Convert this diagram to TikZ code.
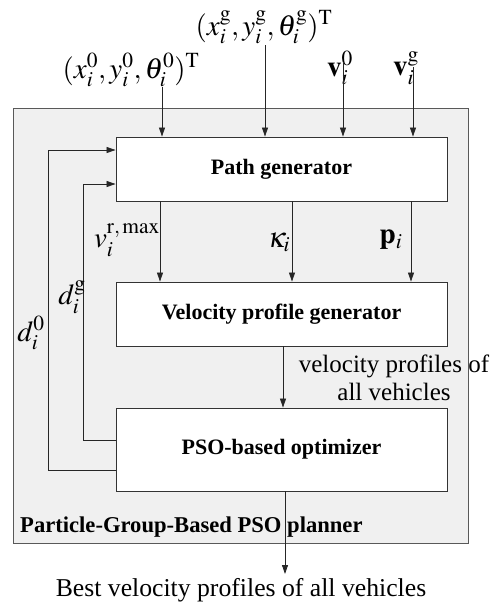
\documentclass[tikz,border=0pt]{standalone}
\usepackage{mathptmx}
\usepackage{fontspec}
\setmainfont{Liberation Serif}
\usetikzlibrary{arrows.meta}
\begin{document}
\begin{tikzpicture}[x=1pt,y=-1pt,
  box/.style={draw=black!80, fill=white, line width=0.9pt, minimum width=331pt, inner sep=0pt, font=\fontsize{22}{26}\selectfont\bfseries},
  arr/.style={-{Triangle[length=9pt,width=6pt]}, line width=0.8pt, draw=black!85},
  lbl/.style={font=\fontsize{25}{30}\selectfont, inner sep=0pt},
  mlbl/.style={font=\fontsize{29}{34}\selectfont, inner sep=0pt}]
\useasboundingbox (0,0) rectangle (501,606);
\node[draw=black!65, fill=black!6, line width=0.9pt, minimum width=455pt, minimum height=435pt, anchor=north west, inner sep=0pt] (planner) at (13,108) {};
\node[box, minimum height=64pt] (pg) at (281.5,169) {Path generator};
\node[box, minimum height=64pt] (vpg) at (281.5,314) {Velocity profile generator};
\node[box, minimum height=83pt] (pso) at (281.5,449.5) {PSO-based optimizer};
\node[anchor=west, inner sep=0pt, font=\fontsize{22.6}{26}\selectfont\bfseries] (ptitle) at (20,527) {Particle-Group-Based PSO planner};
% input labels
\node[mlbl] (q0) at (131,70) {$(x_i^0,y_i^0,\theta_i^0)^{\mathrm{T}}$};
\node[mlbl] (qg) at (264,27) {$(x_i^{\mathrm g},y_i^{\mathrm g},\theta_i^{\mathrm g})^{\mathrm T}$};
\node[mlbl] (v0) at (340,68) {$\mathbf v_i^0$};
\node[mlbl] (vg) at (406,68) {$\mathbf v_i^{\mathrm g}$};
\coordinate (s1) at (162,87);
\coordinate (s2) at (265,45);
\coordinate (s3) at (343,62);
\coordinate (s4) at (413,67);
\draw[arr] (s1) -- (s1 |- pg.north);
\draw[arr] (s2) -- (s2 |- pg.north);
\draw[arr] (s3) -- (s3 |- pg.north);
\draw[arr] (s4) -- (s4 |- pg.north);
% path gen -> vpg
\coordinate (m1) at (160,201);
\coordinate (m2) at (292,201);
\coordinate (m3) at (411,201);
\draw[arr] (m1) -- (m1 |- vpg.north);
\draw[arr] (m2) -- (m2 |- vpg.north);
\draw[arr] (m3) -- (m3 |- vpg.north);
\node[mlbl] (vr) at (127,240) {$v_i^{\mathrm{r,\,max}}$};
\node[mlbl] (ka) at (279,242) {$\kappa_i$};
\node[mlbl] (pp) at (391,240) {$\mathbf p_i$};
% vpg -> pso
\coordinate (m4) at (283,346);
\draw[arr] (m4) -- (m4 |- pso.north);
\node[lbl] (vpl1) at (394,366) {velocity profiles of};
\node[lbl] (vpl2) at (394,392) {all vehicles};
% feedback
\coordinate (f1) at (48,470);
\coordinate (f2) at (83,440);
\draw[arr] (pso.west |- f1) -- (f1) |- (pg.west |- 0,150);
\draw[arr] (pso.west |- f2) -- (f2) |- (pg.west |- 0,184);
\node[mlbl] (dg) at (72,297) {$d_i^{\mathrm g}$};
\node[mlbl] (d0) at (31,333) {$d_i^0$};
% output
\node[lbl, font=\fontsize{25.7}{30}\selectfont] (out) at (241,590) {Best velocity profiles of all vehicles};
\coordinate (m5) at (285,491);
\draw[arr] (m5) -- (285,574);
\end{tikzpicture}
\end{document}
